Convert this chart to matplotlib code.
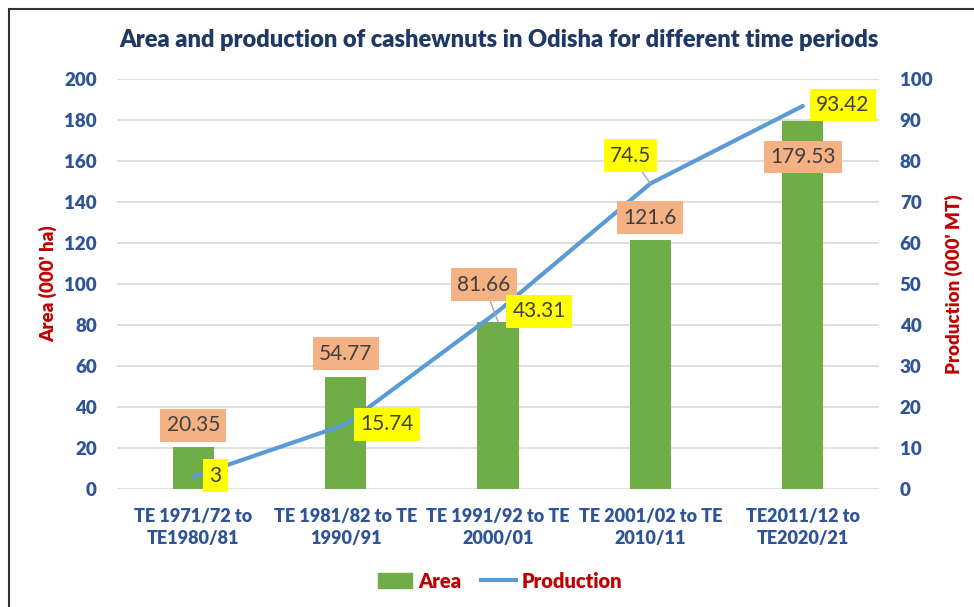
import matplotlib.pyplot as plt
import matplotlib.patches as mpatches
import numpy as np

plt.rcParams["font.family"] = ["Lato", "DejaVu Sans"]

periods = [
    "TE 1971/72 to\nTE1980/81",
    "TE 1981/82 to TE\n1990/91",
    "TE 1991/92 to TE\n2000/01",
    "TE 2001/02 to TE\n2010/11",
    "TE2011/12 to\nTE2020/21",
]
area = [20.35, 54.77, 81.66, 121.6, 179.53]
production = [3, 15.74, 43.31, 74.5, 93.42]

# label offsets in pixels (dx, dy) relative to bar top / line point
area_off = [(0, 22), (0, 23), (-14, 37), (0, 22), (0, -36)]
prod_off = [(22, 1), (41, 0), (41, 0), (-20, 28), (40, 1)]

navy = "#2F5597"
red = "#C00000"
green = "#70AD47"
blue = "#5B9BD5"

fig = plt.figure(figsize=(9.74, 6.07), dpi=100)
ax = fig.add_axes([117 / 974, 1 - 489 / 607, (879 - 117) / 974, (489 - 79) / 607])
ax2 = ax.twinx()

x = np.arange(len(periods))
ax.bar(x, area, width=0.27, color=green, zorder=2)
ax2.plot(x, production, color=blue, linewidth=3, solid_capstyle="round", zorder=3)

ax.set_xlim(-0.5, len(periods) - 0.5)
ax.set_ylim(0, 200)
ax2.set_ylim(0, 100)
ax.set_yticks(np.arange(0, 201, 20))
ax2.set_yticks(np.arange(0, 101, 10))
ax.yaxis.grid(True, color="#D9D9D9", linewidth=1.2, zorder=0)
ax.set_axisbelow(True)

for a in (ax, ax2):
    for s in a.spines.values():
        s.set_visible(False)
    a.tick_params(length=0, labelsize=13.5, labelcolor=navy)
    for lab in a.get_yticklabels():
        lab.set_fontweight("heavy")

ax.tick_params(axis="y", pad=14.5)
ax2.tick_params(axis="y", pad=15)
ax.set_xticks(x)
ax.set_xticklabels(periods, fontsize=13, fontweight="heavy", color=navy, linespacing=1.3)
ax.tick_params(axis="x", pad=14)

ax.set_ylabel("Area (000' ha)", fontsize=13.5, fontweight="heavy", color=red, labelpad=5)
ax2.set_ylabel("Production (000' MT)", fontsize=13.5, fontweight="heavy", color=red,
               rotation=90, labelpad=9)

fig.text(499 / 974, 1 - 40 / 607, "Area and production of cashewnuts in Odisha for different time periods",
         ha="center", va="center", fontsize=17, fontweight="heavy", color="#203864")

for i, v in enumerate(area):
    dx, dy = area_off[i]
    ax2.annotate(f"{v:g}", xy=(i, v), xycoords=ax.transData, xytext=(dx, dy),
                 textcoords="offset pixels", ha="center", va="center", fontsize=15,
                 color="#404040", zorder=5,
                 bbox=dict(boxstyle="square,pad=0.3", fc="#F4B183", ec="none"),
                 arrowprops=dict(arrowstyle="-", color="#A6A6A6", lw=1, shrinkA=0, shrinkB=0)
                 if i == 2 else None)

for i, v in enumerate(production):
    dx, dy = prod_off[i]
    ax2.annotate(f"{v:g}", xy=(i, v), xytext=(dx, dy),
                 textcoords="offset pixels", ha="center", va="center", fontsize=15,
                 color="#404040", zorder=6,
                 bbox=dict(boxstyle="square,pad=0.3", fc="#FFFF00", ec="none"),
                 arrowprops=dict(arrowstyle="-", color="#A6A6A6", lw=1, shrinkA=0, shrinkB=0)
                 if i == 3 else None)

handles = [mpatches.Patch(color=green, label="Area"),
           plt.Line2D([], [], color=blue, linewidth=3, label="Production")]
leg = fig.legend(handles=handles, loc="center", bbox_to_anchor=(500 / 974, 1 - 581 / 607), ncol=2,
                 frameon=False, fontsize=14.5, handlelength=1.7, columnspacing=1.0, handletextpad=0.3)
for t in leg.get_texts():
    t.set_color(red)
    t.set_fontweight("heavy")

# chart border, cut off on the right and bottom like the screenshot
fig.patches.append(mpatches.Rectangle((9 / 974, -0.1), 1.1, 1 - 9 / 607 + 0.1,
                                      transform=fig.transFigure, fill=False,
                                      ec="#333333", lw=1.5))

fig.savefig("out.png", dpi=100)
